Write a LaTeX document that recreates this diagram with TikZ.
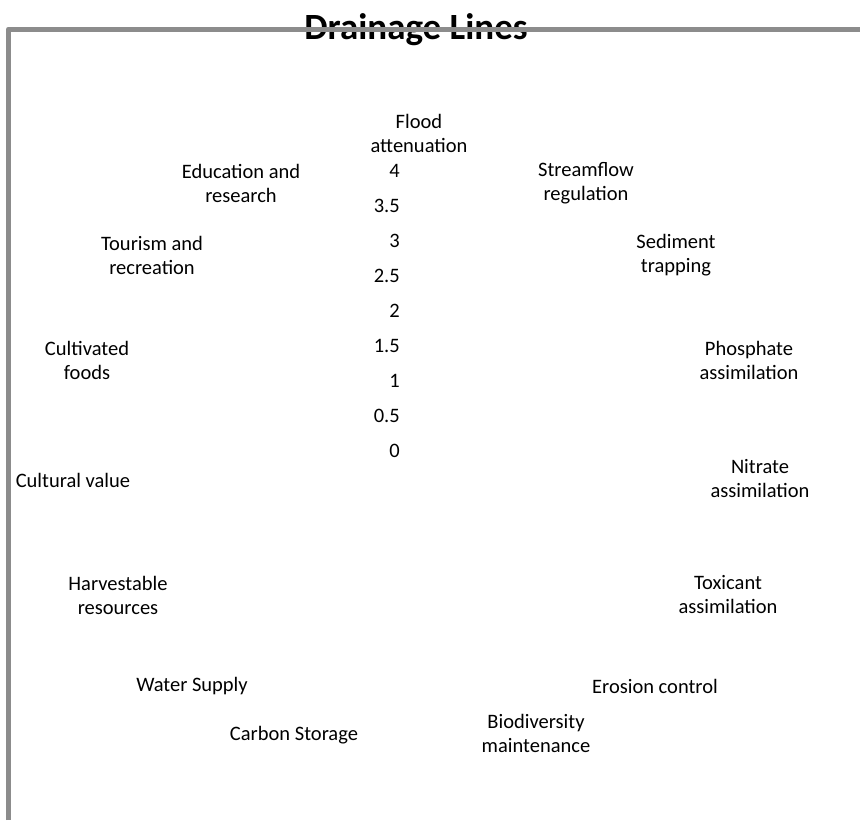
\documentclass[tikz,border=0pt]{standalone}
\usepackage{fontspec}
\setmainfont{Carlito}
\usetikzlibrary{positioning}

\tikzset{
  axislabel/.style={align=center, font=\fontsize{20.5}{24}\selectfont, inner sep=0pt},
  tick/.style={anchor=east, font=\fontsize{20.5}{24}\selectfont, inner sep=0pt},
  frameline/.style={line width=5pt, color=black!45, line join=round}
}

\begin{document}
\begin{tikzpicture}[x=1pt, y=-1pt]
\useasboundingbox (0,0) rectangle (860,820);

% title (the frame runs over it)
\node[font=\fontsize{37}{44}\bfseries\selectfont, inner sep=0pt, anchor=base] (title) at (416,39.5) {Drainage Lines};

% frame
\coordinate (fbl) at (8.5,820);
\coordinate (ftl) at (8.5,29);
\coordinate (ftr) at (860,29);
\draw[frameline] (fbl) -- (ftl) -- (ftr);

% scale
\foreach \v [count=\i from 0] in {0,0.5,1,1.5,2,2.5,3,3.5,4}
  \node[tick] (tick\i) at (400,451-35*\i) {\v};

% category labels
\node[axislabel] (flood) at (419,133) {Flood\\attenuation};
\node[axislabel] (stream) at (586,183) {Streamflow\\regulation};
\node[axislabel] (sediment) at (676,255) {Sediment\\trapping};
\node[axislabel] (phosphate) at (749,360) {Phosphate\\assimilation};
\node[axislabel] (nitrate) at (760,479) {Nitrate\\assimilation};
\node[axislabel] (toxicant) at (728,595) {Toxicant\\assimilation};
\node[axislabel] (erosion) at (655,686) {Erosion control};
\node[axislabel] (biodiv) at (536,733) {Biodiversity\\maintenance};
\node[axislabel] (carbon) at (294,735) {Carbon Storage};
\node[axislabel] (water) at (192,686) {Water Supply};
\node[axislabel] (harvest) at (118,595) {Harvestable\\resources};
\node[axislabel] (cultural) at (73,480) {Cultural value};
\node[axislabel] (cultivated) at (87,360) {Cultivated\\foods};
\node[axislabel] (tourism) at (152,255) {Tourism and\\recreation};
\node[axislabel] (education) at (241,183) {Education and\\research};

\end{tikzpicture}
\end{document}
